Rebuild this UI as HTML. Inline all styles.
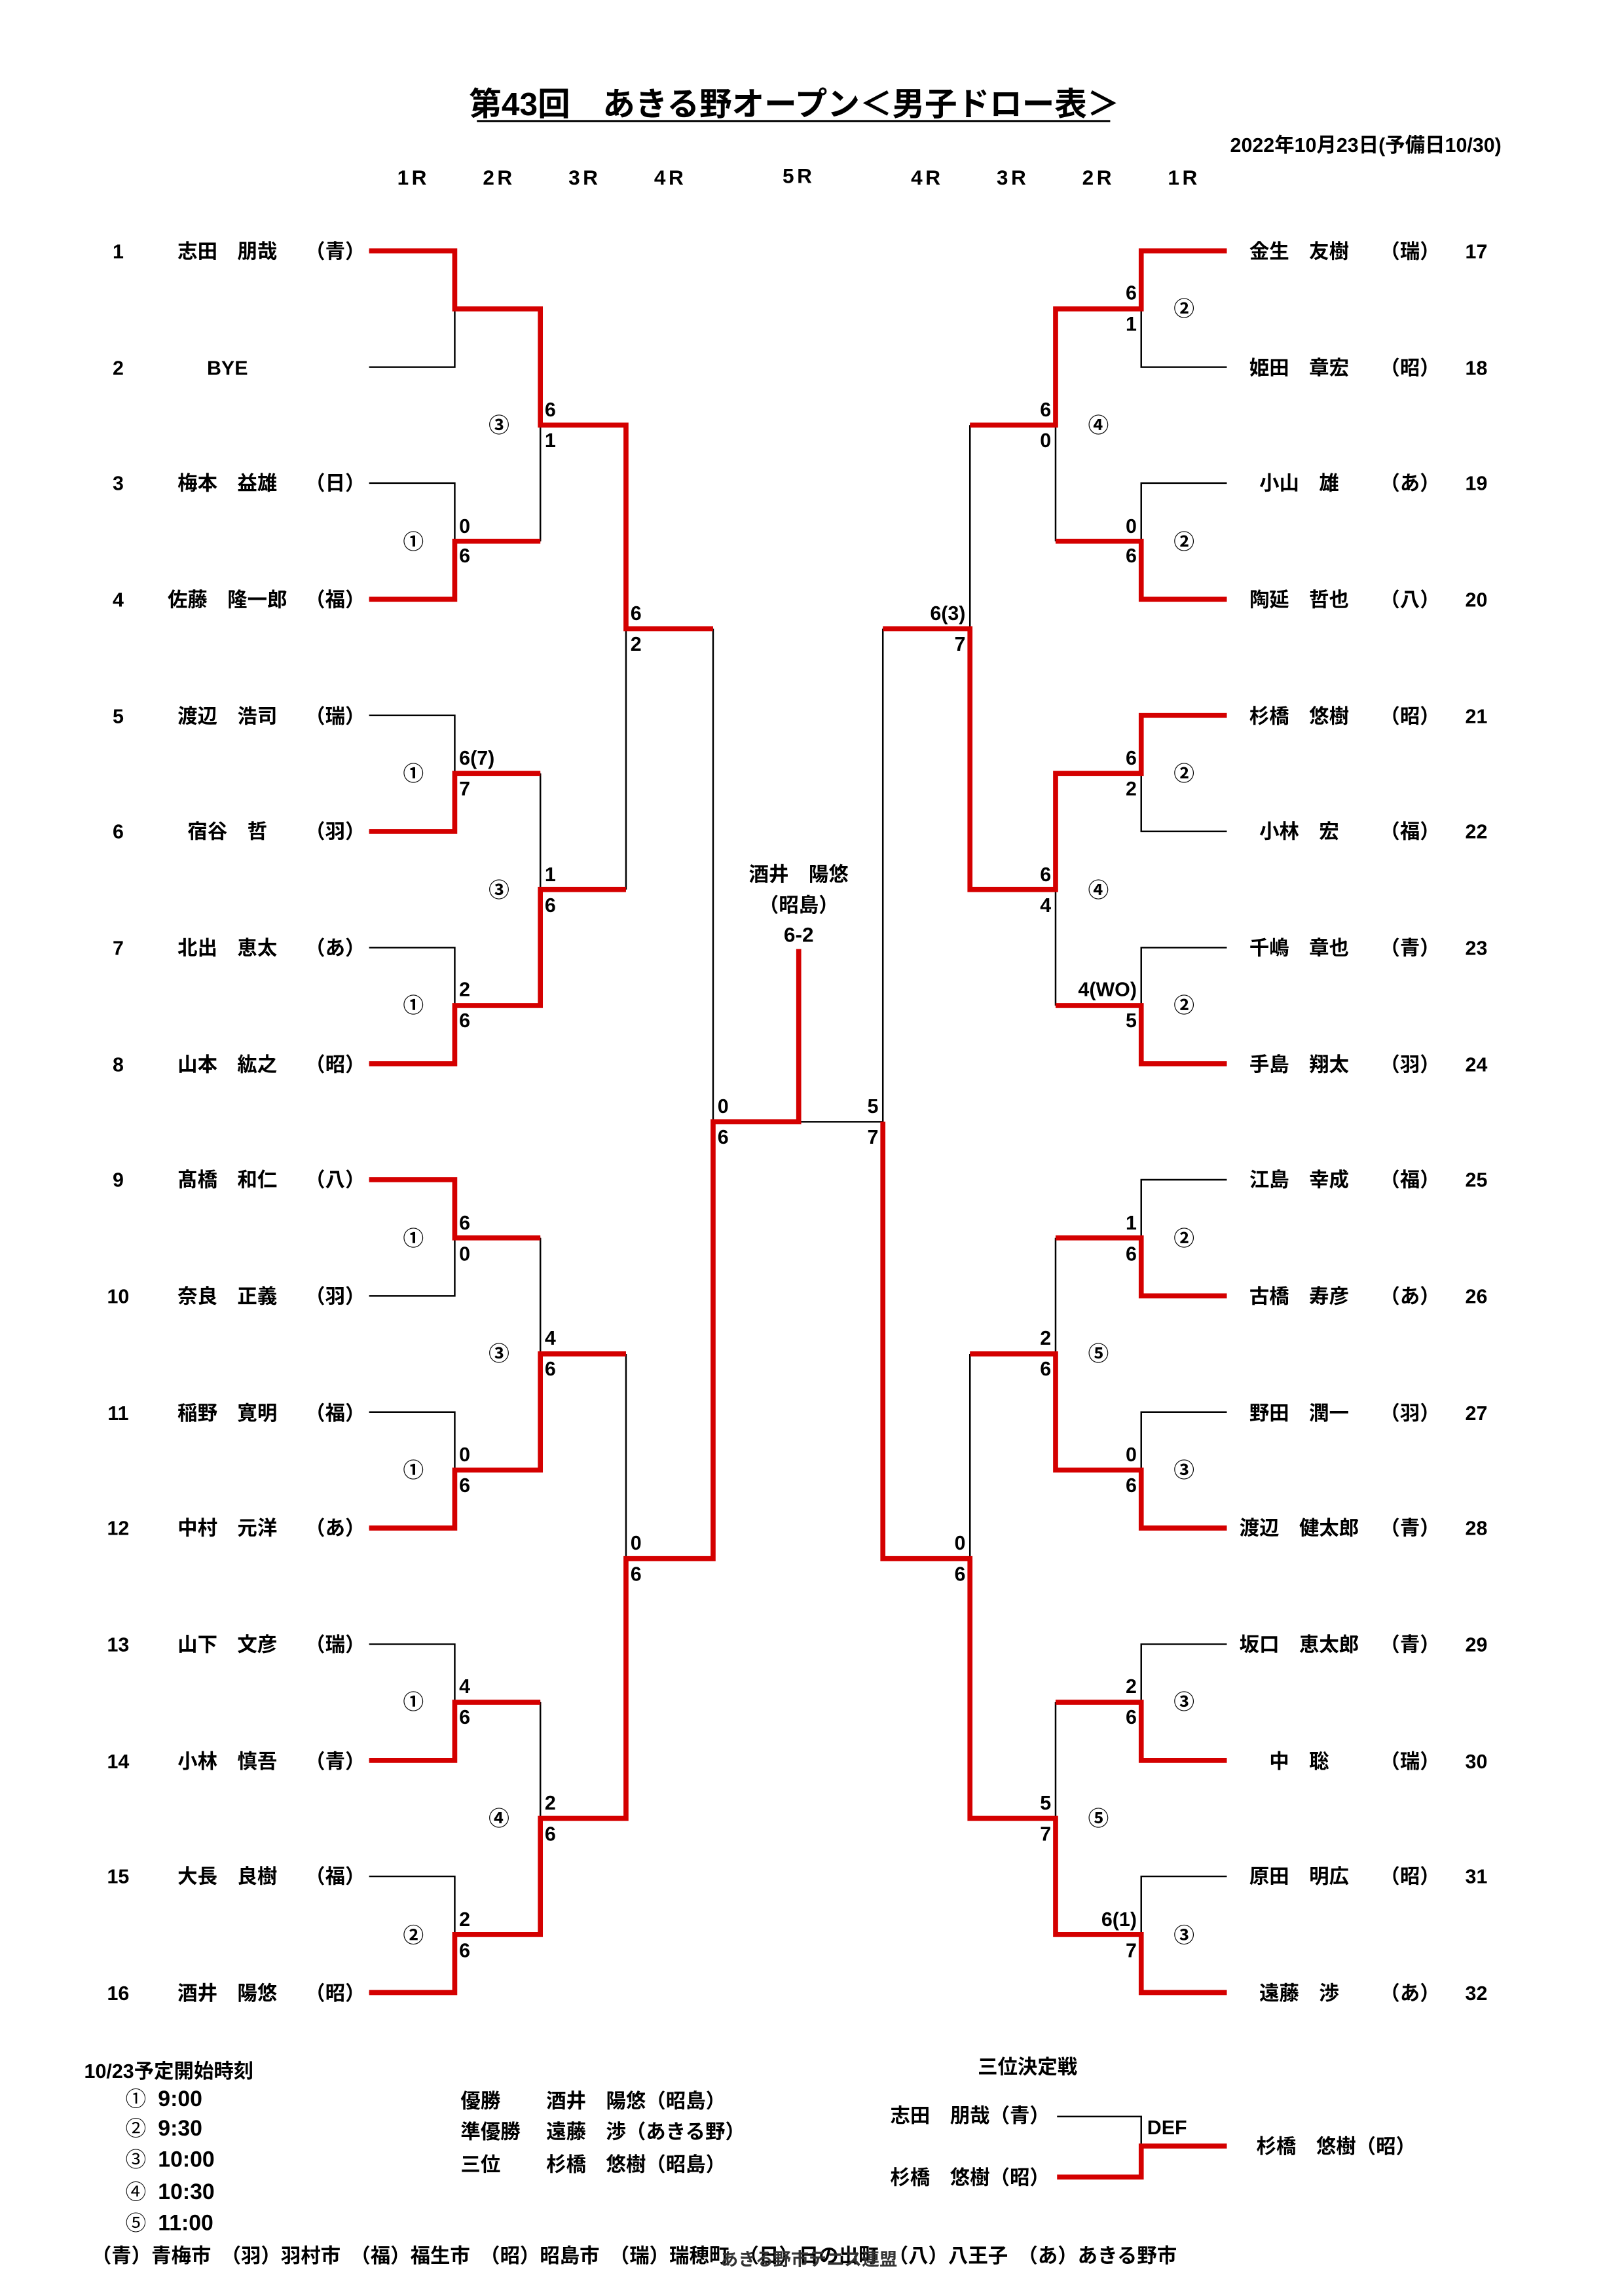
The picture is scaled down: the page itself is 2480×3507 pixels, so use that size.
<!DOCTYPE html>
<html><head><meta charset="utf-8"><style>
html,body{margin:0;padding:0;background:#fff;}
svg{display:block;}
text{font-family:"Liberation Sans","Noto Sans CJK JP",sans-serif;font-weight:bold;fill:#000;}
.n{font-size:13.5px;}
.s{font-size:13.5px;}
.c{font-size:14px;font-weight:normal;}
.k{stroke:#000;stroke-width:1.1;fill:none;}
.r{stroke:#d40000;stroke-width:3.4;fill:none;stroke-linejoin:miter;}
</style></head><body>
<svg width="2480" height="3507" viewBox="0 0 1100 1555.6" xmlns="http://www.w3.org/2000/svg">
<rect width="1100" height="1556" fill="#fff"/>
<text x="538" y="78" text-anchor="middle" style="font-size:22px">第43回　あきる野オープン＜男子ドロー表＞</text>
<line x1="323" y1="82" x2="752" y2="82" stroke="#000" stroke-width="1.3"/>
<text x="1017" y="103" text-anchor="end" style="font-size:13.5px">2022年10月23日(予備日10/30)</text>
<g style="font-size:14px;letter-spacing:2px" text-anchor="middle">
<text x="280" y="125">1R</text><text x="338" y="125">2R</text><text x="396" y="125">3R</text><text x="454" y="125">4R</text><text x="541" y="124">5R</text>
<text x="628" y="125">4R</text><text x="686" y="125">3R</text><text x="744" y="125">2R</text><text x="802" y="125">1R</text>
</g>
<!-- left names -->
<g class="n" text-anchor="middle">
<text x="80" y="175">1</text><text x="154" y="175">志田　朋哉</text><text x="227" y="175">（青）</text>
<text x="80" y="254">2</text><text x="154" y="254">BYE</text>
<text x="80" y="332">3</text><text x="154" y="332">梅本　益雄</text><text x="227" y="332">（日）</text>
<text x="80" y="411">4</text><text x="154" y="411">佐藤　隆一郎</text><text x="227" y="411">（福）</text>
<text x="80" y="490">5</text><text x="154" y="490">渡辺　浩司</text><text x="227" y="490">（瑞）</text>
<text x="80" y="568">6</text><text x="154" y="568">宿谷　哲</text><text x="227" y="568">（羽）</text>
<text x="80" y="647">7</text><text x="154" y="647">北出　恵太</text><text x="227" y="647">（あ）</text>
<text x="80" y="726">8</text><text x="154" y="726">山本　紘之</text><text x="227" y="726">（昭）</text>
<text x="80" y="804">9</text><text x="154" y="804">髙橋　和仁</text><text x="227" y="804">（八）</text>
<text x="80" y="883">10</text><text x="154" y="883">奈良　正義</text><text x="227" y="883">（羽）</text>
<text x="80" y="962">11</text><text x="154" y="962">稲野　寛明</text><text x="227" y="962">（福）</text>
<text x="80" y="1040">12</text><text x="154" y="1040">中村　元洋</text><text x="227" y="1040">（あ）</text>
<text x="80" y="1119">13</text><text x="154" y="1119">山下　文彦</text><text x="227" y="1119">（瑞）</text>
<text x="80" y="1198">14</text><text x="154" y="1198">小林　慎吾</text><text x="227" y="1198">（青）</text>
<text x="80" y="1276">15</text><text x="154" y="1276">大長　良樹</text><text x="227" y="1276">（福）</text>
<text x="80" y="1355">16</text><text x="154" y="1355">酒井　陽悠</text><text x="227" y="1355">（昭）</text>
</g>
<!-- right names -->
<g class="n" text-anchor="middle">
<text x="880" y="175">金生　友樹</text><text x="955" y="175">（瑞）</text><text x="1000" y="175">17</text>
<text x="880" y="254">姫田　章宏</text><text x="955" y="254">（昭）</text><text x="1000" y="254">18</text>
<text x="880" y="332">小山　雄</text><text x="955" y="332">（あ）</text><text x="1000" y="332">19</text>
<text x="880" y="411">陶延　哲也</text><text x="955" y="411">（八）</text><text x="1000" y="411">20</text>
<text x="880" y="490">杉橋　悠樹</text><text x="955" y="490">（昭）</text><text x="1000" y="490">21</text>
<text x="880" y="568">小林　宏</text><text x="955" y="568">（福）</text><text x="1000" y="568">22</text>
<text x="880" y="647">千嶋　章也</text><text x="955" y="647">（青）</text><text x="1000" y="647">23</text>
<text x="880" y="726">手島　翔太</text><text x="955" y="726">（羽）</text><text x="1000" y="726">24</text>
<text x="880" y="804">江島　幸成</text><text x="955" y="804">（福）</text><text x="1000" y="804">25</text>
<text x="880" y="883">古橋　寿彦</text><text x="955" y="883">（あ）</text><text x="1000" y="883">26</text>
<text x="880" y="962">野田　潤一</text><text x="955" y="962">（羽）</text><text x="1000" y="962">27</text>
<text x="880" y="1040">渡辺　健太郎</text><text x="955" y="1040">（青）</text><text x="1000" y="1040">28</text>
<text x="880" y="1119">坂口　恵太郎</text><text x="955" y="1119">（青）</text><text x="1000" y="1119">29</text>
<text x="880" y="1198">中　聡</text><text x="955" y="1198">（瑞）</text><text x="1000" y="1198">30</text>
<text x="880" y="1276">原田　明広</text><text x="955" y="1276">（昭）</text><text x="1000" y="1276">31</text>
<text x="880" y="1355">遠藤　渉</text><text x="955" y="1355">（あ）</text><text x="1000" y="1355">32</text>
</g>
<!-- black structure -->
<path class="k" d="M250 170H308V248.7H250 M250 327.3H308V406H250 M250 484.7H308V563.3H250 M250 642H308V720.7H250 M250 799.3H308V878H250 M250 956.7H308V1035.3H250 M250 1114H308V1192.7H250 M250 1271.3H308V1350H250
M308 209.3H366 M308 366.7H366 M308 524H366 M308 681.3H366 M308 838.7H366 M308 996H366 M308 1153.3H366 M308 1310.7H366
M366 209.3V366.7 M366 524V681.3 M366 838.7V996 M366 1153.3V1310.7
M366 288H424 M366 602.7H424 M366 917.3H424 M366 1232H424
M424 288V602.7 M424 917.3V1232 M424 426H483 M424 1056H483 M483 426V1056 M483 760H598"/>
<path class="k" d="M831 170H773V248.7H831 M831 327.3H773V406H831 M831 484.7H773V563.3H831 M831 642H773V720.7H831 M831 799.3H773V878H831 M831 956.7H773V1035.3H831 M831 1114H773V1192.7H831 M831 1271.3H773V1350H831
M773 209.3H715 M773 366.7H715 M773 524H715 M773 681.3H715 M773 838.7H715 M773 996H715 M773 1153.3H715 M773 1310.7H715
M715 209.3V366.7 M715 524V681.3 M715 838.7V996 M715 1153.3V1310.7
M715 288H657 M715 602.7H657 M715 917.3H657 M715 1232H657
M657 288V602.7 M657 917.3V1232 M657 426H598 M657 1056H598 M598 426V1056"/>
<!-- red winners -->
<path class="r" d="M250 170H308V209.3H366V288H424V426H483"/>
<path class="r" d="M250 406H308V366.7H366"/>
<path class="r" d="M250 563.3H308V524H366"/>
<path class="r" d="M250 720.7H308V681.3H366V602.7H424"/>
<path class="r" d="M250 799.3H308V838.7H366"/>
<path class="r" d="M250 1035.3H308V996H366V917.3H424"/>
<path class="r" d="M250 1192.7H308V1153.3H366"/>
<path class="r" d="M250 1350H308V1310.7H366V1232H424V1056H483V760H541V643"/>
<path class="r" d="M831 170H773V209.3H715V288H657"/>
<path class="r" d="M831 406H773V366.7H715"/>
<path class="r" d="M831 484.7H773V524H715V602.7H657V426H598"/>
<path class="r" d="M831 720.7H773V681.3H715"/>
<path class="r" d="M831 878H773V838.7H715"/>
<path class="r" d="M831 1035.3H773V996H715V917.3H657"/>
<path class="r" d="M831 1192.7H773V1153.3H715"/>
<path class="r" d="M831 1350H773V1310.7H715V1232H657V1056H598V760"/>
<!-- left scores -->
<g class="s">
<text x="311" y="361">0</text><text x="311" y="381">6</text>
<text x="311" y="518">6(7)</text><text x="311" y="539">7</text>
<text x="311" y="675">2</text><text x="311" y="696">6</text>
<text x="311" y="833">6</text><text x="311" y="854">0</text>
<text x="311" y="990">0</text><text x="311" y="1011">6</text>
<text x="311" y="1147">4</text><text x="311" y="1168">6</text>
<text x="311" y="1305">2</text><text x="311" y="1326">6</text>
<text x="369" y="282">6</text><text x="369" y="303">1</text>
<text x="369" y="597">1</text><text x="369" y="618">6</text>
<text x="369" y="911">4</text><text x="369" y="932">6</text>
<text x="369" y="1226">2</text><text x="369" y="1247">6</text>
<text x="427" y="420">6</text><text x="427" y="441">2</text>
<text x="427" y="1050">0</text><text x="427" y="1071">6</text>
<text x="486" y="754">0</text><text x="486" y="775">6</text>
</g>
<!-- right scores -->
<g class="s" text-anchor="end">
<text x="595" y="754">5</text><text x="595" y="775">7</text>
<text x="654" y="420">6(3)</text><text x="654" y="441">7</text>
<text x="654" y="1050">0</text><text x="654" y="1071">6</text>
<text x="712" y="282">6</text><text x="712" y="303">0</text>
<text x="712" y="597">6</text><text x="712" y="618">4</text>
<text x="712" y="911">2</text><text x="712" y="932">6</text>
<text x="712" y="1226">5</text><text x="712" y="1247">7</text>
<text x="770" y="203">6</text><text x="770" y="224">1</text>
<text x="770" y="361">0</text><text x="770" y="381">6</text>
<text x="770" y="518">6</text><text x="770" y="539">2</text>
<text x="770" y="675">4(WO)</text><text x="770" y="696">5</text>
<text x="770" y="833">1</text><text x="770" y="854">6</text>
<text x="770" y="990">0</text><text x="770" y="1011">6</text>
<text x="770" y="1147">2</text><text x="770" y="1168">6</text>
<text x="770" y="1305">6(1)</text><text x="770" y="1326">7</text>
</g>
<!-- circles -->
<g class="c" text-anchor="middle">
<text x="280" y="372">①</text><text x="280" y="529">①</text><text x="280" y="686">①</text><text x="280" y="844">①</text><text x="280" y="1001">①</text><text x="280" y="1158">①</text><text x="280" y="1316">②</text>
<text x="338" y="293">③</text><text x="338" y="608">③</text><text x="338" y="922">③</text><text x="338" y="1237">④</text>
<text x="802" y="214">②</text><text x="802" y="372">②</text><text x="802" y="529">②</text><text x="802" y="686">②</text><text x="802" y="844">②</text><text x="802" y="1001">③</text><text x="802" y="1158">③</text><text x="802" y="1316">③</text>
<text x="744" y="293">④</text><text x="744" y="608">④</text><text x="744" y="922">⑤</text><text x="744" y="1237">⑤</text>
</g>
<!-- champion -->
<g class="n" text-anchor="middle">
<text x="541" y="597">酒井　陽悠</text><text x="541" y="618">（昭島）</text><text x="541" y="638" style="font-size:14px">6-2</text>
</g>
<!-- bottom -->
<g class="n">
<text x="57" y="1408">10/23予定開始時刻</text>
<text x="85" y="1427" class="c">①</text><text x="107" y="1427" style="font-size:15px">9:00</text>
<text x="85" y="1447" class="c">②</text><text x="107" y="1447" style="font-size:15px">9:30</text>
<text x="85" y="1468" class="c">③</text><text x="107" y="1468" style="font-size:15px">10:00</text>
<text x="85" y="1490" class="c">④</text><text x="107" y="1490" style="font-size:15px">10:30</text>
<text x="85" y="1511" class="c">⑤</text><text x="107" y="1511" style="font-size:15px">11:00</text>
<text x="312" y="1428">優勝</text><text x="370" y="1428">酒井　陽悠（昭島）</text>
<text x="312" y="1449">準優勝</text><text x="370" y="1449">遠藤　渉（あきる野）</text>
<text x="312" y="1471">三位</text><text x="370" y="1471">杉橋　悠樹（昭島）</text>
<text x="696" y="1405" text-anchor="middle">三位決定戦</text>
<text x="603" y="1438">志田　朋哉（青）</text>
<text x="603" y="1480">杉橋　悠樹（昭）</text>
<text x="777" y="1446">DEF</text>
<text x="851" y="1459">杉橋　悠樹（昭）</text>
<text x="62" y="1533">（青）青梅市　（羽）羽村市　（福）福生市　（昭）昭島市　（瑞）瑞穂町　（日）日の出町　（八）八王子　（あ）あきる野市</text>
<text x="488" y="1535" style="font-size:12px;fill:#333">あきる野市テニス連盟</text>
</g>
<path class="k" d="M716 1434H773V1454"/>
<path class="r" d="M716 1475H773V1454H831"/>
</svg>
</body></html>
